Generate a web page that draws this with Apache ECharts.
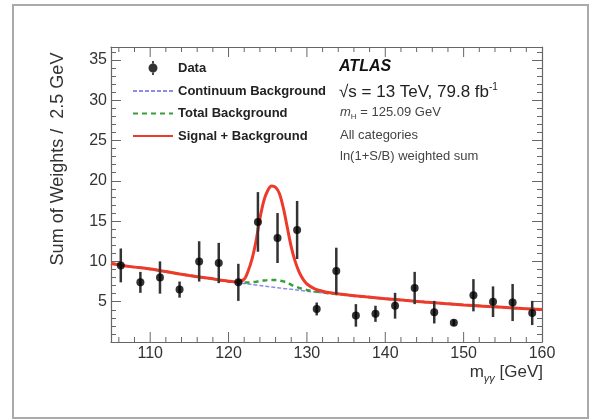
<!DOCTYPE html>
<html>
<head>
<meta charset="utf-8">
<script src="https://cdn.jsdelivr.net/npm/echarts@6/dist/echarts.min.js"></script>
<style>
  html, body { margin: 0; padding: 0; background: #fff; }
  #chart { width: 597px; height: 419px; }
</style>
</head>
<body>
<div id="chart"></div>
<script>
// diphoton mass bins (bin centres, 2.5 GeV wide)
const massBins = [106.25, 108.75, 111.25, 113.75, 116.25, 118.75, 121.25, 123.75, 126.25, 128.75, 131.25,
                  133.75, 136.25, 138.75, 141.25, 143.75, 146.25, 148.75, 151.25, 153.75, 156.25, 158.75];
const sumWeights = [9.5, 7.4, 8.0, 6.5, 10.0, 9.8, 7.4, 14.9, 12.9, 13.9, 4.1,
                    8.8, 3.3, 3.5, 4.5, 6.7, 3.7, 2.4, 5.8, 5.0, 4.9, 3.6];
const errors = [2.1, 1.3, 2.0, 1.0, 2.5, 2.5, 2.3, 3.7, 3.1, 3.6, 0.8,
                2.9, 1.4, 1.0, 1.6, 2.0, 1.4, 0.4, 2.0, 1.9, 2.3, 1.5];

// fit curves
const curveMass = [105, 107.5, 110, 112.5, 115, 117.5, 120, 121, 122, 122.5, 123, 123.5, 124, 124.5, 125, 125.5,
                   126, 126.5, 127, 127.5, 128, 128.5, 129, 129.5, 130, 131, 132, 133, 135, 137.5, 140, 142.5,
                   145, 147.5, 150, 152.5, 155, 157.5, 160];
const continuumBkg = [9.75, 9.35, 9.05, 8.65, 8.25, 7.9, 7.5, 7.37, 7.25, 7.19, 7.13, 7.07, 7.01, 6.95, 6.89, 6.83,
                      6.77, 6.71, 6.65, 6.59, 6.53, 6.47, 6.41, 6.36, 6.3, 6.2, 6.1, 6.0, 5.82, 5.6, 5.38, 5.17,
                      4.97, 4.78, 4.6, 4.45, 4.3, 4.16, 4.04];
const totalBkg = [9.75, 9.35, 9.05, 8.65, 8.25, 7.9, 7.5, 7.42, 7.38, 7.38, 7.42, 7.48, 7.55, 7.62, 7.68, 7.7,
                  7.68, 7.62, 7.52, 7.38, 7.1, 6.9, 6.72, 6.55, 6.45, 6.28, 6.14, 6.03, 5.82, 5.6, 5.38, 5.17,
                  4.97, 4.78, 4.6, 4.45, 4.3, 4.16, 4.04];
const signalPlusBkg = [9.75, 9.35, 9.05, 8.65, 8.25, 7.9, 7.55, 7.45, 7.8, 8.8, 10.3, 12.5, 15.3, 17.5, 18.8, 19.35,
                       19.2, 18.4, 16.6, 14.2, 11.8, 10.0, 8.7, 7.8, 7.2, 6.6, 6.3, 6.1, 5.85, 5.6, 5.38, 5.17,
                       4.97, 4.78, 4.6, 4.45, 4.3, 4.16, 4.04];

const xMajorTicks = [110, 120, 130, 140, 150];
const xMinorTicks = [106, 108, 112, 114, 116, 118, 122, 124, 126, 128, 132, 134, 136, 138,
                     142, 144, 146, 148, 152, 154, 156, 158];

const FONT = 'Liberation Sans, Arial, Helvetica, sans-serif';
const AXIS = '#666';

function pairs(xs, ys) { return xs.map((x, i) => [x, ys[i]]); }

const yAxisCommon = {
  type: 'value', min: 0, max: 36.6, interval: 5,
  axisLine: { show: true, lineStyle: { color: AXIS, width: 1.2 } },
  axisTick: { show: true, inside: true, length: 10, lineStyle: { color: AXIS } },
  minorTick: { show: true, splitNumber: 5, length: 5, lineStyle: { color: AXIS } },
  splitLine: { show: false }
};

const chart = echarts.init(document.getElementById('chart'), null, { renderer: 'canvas' });

chart.setOption({
  backgroundColor: '#fff',
  animation: false,
  textStyle: { fontFamily: FONT },
  grid: { left: 111, right: 55, top: 47, bottom: 77 },
  xAxis: [{
    type: 'value', min: 105, max: 160, interval: 5, position: 'bottom',
    axisLine: { show: true, onZero: false, lineStyle: { color: AXIS, width: 1.2 } },
    axisTick: { show: false },
    splitLine: { show: false },
    axisLabel: {
      fontSize: 16, color: '#333', margin: 4, fontFamily: FONT,
      formatter: v => (v % 10 === 0 ? String(v) : '')
    }
  }, {
    type: 'value', min: 105, max: 160, interval: 5, position: 'top',
    axisLine: { show: true, onZero: false, lineStyle: { color: AXIS, width: 1.2 } },
    axisTick: { show: false }, axisLabel: { show: false }, splitLine: { show: false }
  }],
  yAxis: [Object.assign({}, yAxisCommon, {
    position: 'left',
    axisLabel: {
      fontSize: 16, color: '#333', margin: 4, fontFamily: FONT,
      formatter: v => (v > 0 && v % 5 === 0 ? String(v) : '')
    }
  }), Object.assign({}, yAxisCommon, {
    position: 'right', axisLabel: { show: false }
  })],
  legend: {
    orient: 'vertical', left: 127, top: 56,
    itemWidth: 40, itemHeight: 14, itemGap: 9.5,
    textStyle: { fontSize: 13, fontWeight: 'bold', color: '#222', fontFamily: FONT },
    data: [
      { name: 'Data', icon: 'path://M0 0M40 14M19.1 0h1.8v2.7h-1.8zM19.1 11.3h1.8v2.7h-1.8zM15.5 7a4.5 4.5 0 1 0 9 0a4.5 4.5 0 1 0 -9 0z' },
      { name: 'Continuum Background', itemStyle: { opacity: 0 } },
      { name: 'Total Background', itemStyle: { opacity: 0 } },
      { name: 'Signal + Background', itemStyle: { opacity: 0 } }
    ]
  },
  graphic: [
    { type: 'rect', shape: { x: 13, y: 5, width: 575, height: 413 },
      style: { fill: 'none', stroke: '#aaa', lineWidth: 2 }, silent: true },
    { type: 'text', x: 58, y: 159, rotation: Math.PI / 2,
      style: { text: 'Sum of Weights /  2.5 GeV', fontSize: 18, fontFamily: FONT, fill: '#333',
               align: 'center', verticalAlign: 'middle' } },
    { type: 'text', x: 543, y: 372,
      style: {
        text: '{m|m}{s|γγ}{m| [GeV]}', align: 'right', verticalAlign: 'middle', fill: '#333',
        rich: {
          m: { fontSize: 17, fontFamily: FONT, fill: '#333', lineHeight: 24, verticalAlign: 'middle' },
          s: { fontSize: 11, fontFamily: FONT, fontStyle: 'italic', fill: '#333', lineHeight: 24, verticalAlign: 'bottom' }
        }
      } },
    { type: 'text', x: 339, y: 67,
      style: { text: 'ATLAS', font: 'italic bold 16px ' + FONT, fill: '#111', verticalAlign: 'middle' } },
    { type: 'text', x: 339, y: 92,
      style: {
        text: '{a|√s = 13 TeV, 79.8 fb}{b|-1}', verticalAlign: 'middle',
        rich: {
          a: { fontSize: 17, fontFamily: FONT, fill: '#222', lineHeight: 20, verticalAlign: 'middle' },
          b: { fontSize: 10, fontFamily: FONT, fill: '#222', lineHeight: 20, verticalAlign: 'top' }
        }
      } },
    { type: 'text', x: 340, y: 112,
      style: {
        text: '{a|m}{b|H}{c| = 125.09 GeV}', verticalAlign: 'middle',
        rich: {
          a: { fontSize: 13, fontStyle: 'italic', fontFamily: FONT, fill: '#444', lineHeight: 18, verticalAlign: 'middle' },
          b: { fontSize: 8, fontFamily: FONT, fill: '#444', lineHeight: 18, verticalAlign: 'bottom' },
          c: { fontSize: 13, fontFamily: FONT, fill: '#444', lineHeight: 18, verticalAlign: 'middle' }
        }
      } },
    { type: 'text', x: 340, y: 135,
      style: { text: 'All categories', fontSize: 13, fontFamily: FONT, fill: '#444', verticalAlign: 'middle' } },
    { type: 'text', x: 340, y: 156,
      style: { text: 'ln(1+S/B) weighted sum', fontSize: 13, fontFamily: FONT, fill: '#444', verticalAlign: 'middle' } }
  ],
  series: [
    {
      // frame ticks on x (majors every 10, minors every 2), top and bottom
      type: 'custom', name: 'xticks', silent: true, z: 1,
      data: xMajorTicks.map(v => [v, 1]).concat(xMinorTicks.map(v => [v, 0])),
      renderItem: function (params, api) {
        const p = api.coord([api.value(0), 0]);
        const cs = params.coordSys;
        const len = api.value(1) ? 10 : 5;
        const bottom = cs.y + cs.height, top = cs.y;
        return {
          type: 'group', children: [
            { type: 'line', shape: { x1: p[0], y1: bottom, x2: p[0], y2: bottom - len }, style: { stroke: AXIS, lineWidth: 1 } },
            { type: 'line', shape: { x1: p[0], y1: top, x2: p[0], y2: top + len }, style: { stroke: AXIS, lineWidth: 1 } }
          ]
        };
      }
    },
    {
      name: 'Continuum Background', type: 'line', symbol: 'none', z: 3,
      data: pairs(curveMass, continuumBkg), smooth: 0.3,
      lineStyle: { color: '#8c8ce8', width: 1.5, type: [4, 2] },
      itemStyle: { color: '#8c8ce8' }
    },
    {
      name: 'Total Background', type: 'line', symbol: 'none', z: 4,
      data: pairs(curveMass, totalBkg), smooth: 0.3,
      lineStyle: { color: '#3a9e3a', width: 2.5, type: [5, 4] },
      itemStyle: { color: '#3a9e3a' }
    },
    {
      name: 'Signal + Background', type: 'line', symbol: 'none', z: 5,
      data: pairs(curveMass, signalPlusBkg), smooth: 0.3,
      lineStyle: { color: '#ee3a2a', width: 3 },
      itemStyle: { color: '#ee3a2a' }
    },
    {
      // error bars
      type: 'custom', name: 'errbars', silent: true, z: 6,
      data: massBins.map((x, i) => [x, sumWeights[i], errors[i]]),
      renderItem: function (params, api) {
        const x = api.value(0), y = api.value(1), e = api.value(2);
        const lo = api.coord([x, y - e]), hi = api.coord([x, y + e]);
        return { type: 'line', shape: { x1: lo[0], y1: lo[1], x2: hi[0], y2: hi[1] },
                 style: { stroke: '#333', lineWidth: 2.5 } };
      }
    },
    {
      name: 'Data', type: 'scatter', z: 7,
      data: pairs(massBins, sumWeights),
      symbol: 'circle', symbolSize: 8,
      itemStyle: { color: '#000' }
    }
  ]
});
</script>
</body>
</html>
